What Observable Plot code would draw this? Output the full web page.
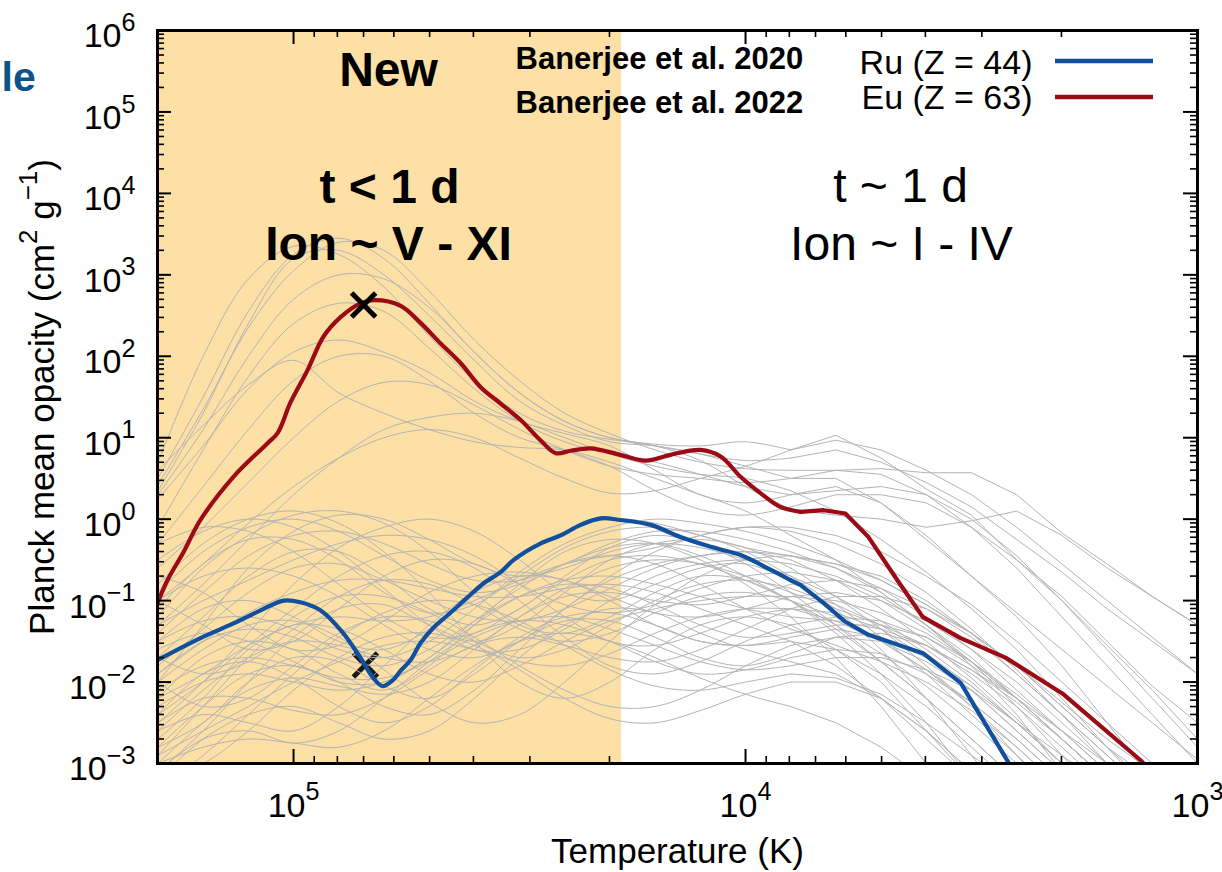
<!DOCTYPE html>
<html><head><meta charset="utf-8">
<script src="https://cdn.jsdelivr.net/npm/d3@7"></script>
<script src="https://cdn.jsdelivr.net/npm/@observablehq/plot@0.6"></script>
<style>
html,body{margin:0;padding:0;background:#fff;}
#chart{width:1222px;height:872px;overflow:hidden;}
</style></head><body><div id="chart"></div>
<script>
// ---------------- data ----------------
// temperatures and opacities are given as log10 values
const euLogT = [5.301,5.279,5.243,5.206,5.133,5.058,5.035,5.007,4.969,4.934,4.896,4.852,4.823,4.763,4.719,4.675,4.631,4.586,4.542,4.498,4.454,4.420,4.387,4.343,4.277,4.221,4.166,4.100,4.055,4.011,3.967,3.923,3.878,3.827,3.779,3.728,3.664,3.608,3.524,3.425,3.299,3.126,3.110];
const euLogK = [-1.03,-0.75,-0.40,-0.01,0.52,0.93,1.06,1.43,1.83,2.24,2.48,2.65,2.69,2.62,2.41,2.16,1.92,1.62,1.42,1.22,0.97,0.81,0.84,0.87,0.79,0.72,0.79,0.85,0.77,0.52,0.32,0.15,0.09,0.11,0.07,-0.22,-0.75,-1.20,-1.46,-1.70,-2.14,-2.96,-3.05];

const ruLogT = [5.301,5.206,5.133,5.073,5.022,4.985,4.940,4.896,4.852,4.825,4.803,4.781,4.763,4.741,4.719,4.690,4.659,4.615,4.580,4.542,4.513,4.454,4.409,4.365,4.321,4.277,4.210,4.144,4.077,4.011,3.945,3.900,3.878,3.827,3.779,3.728,3.606,3.524,3.418,3.410];
const ruLogK = [-1.73,-1.46,-1.28,-1.12,-1.00,-1.02,-1.12,-1.36,-1.70,-1.94,-2.05,-1.98,-1.86,-1.73,-1.52,-1.33,-1.18,-0.96,-0.79,-0.65,-0.50,-0.30,-0.20,-0.07,0.01,-0.01,-0.07,-0.22,-0.34,-0.44,-0.62,-0.75,-0.81,-1.03,-1.26,-1.42,-1.65,-2.01,-2.99,-3.05];

// "X" markers (Banerjee et al. values)
const crossLabels = ["Eu", "Ru"];
const crossLogT = [4.845, 4.841];
const crossLogK = [2.63, -1.79];

// all other elements (grey), on a common log10 T grid
const gridLogT = [5.3,5.2,5.1,5.0,4.9,4.8,4.7,4.6,4.5,4.4,4.3,4.2,4.1,4.0,3.9,3.8,3.7,3.6,3.5,3.4,3.3,3.2,3.1,3.0];
const grayUpper = [
  [0.5,1.5,2.55,3.25,3.45,3.2,2.65,2.05,1.55,1.2,1.0,0.92,0.9,0.95,0.85,1.03,0.75,0.37,0.05,-0.5,-0.95,-1.5,-2.05,-2.5],
  [0.42,1.35,2.35,3.05,3.4,3.3,2.8,2.2,1.7,1.3,1.05,0.85,0.7,0.62,0.6,0.6,0.62,0.57,0.57,0.3,-0.17,-0.55,-0.95,-1.3],
  [0.35,1.3,2.4,3.2,3.3,3.0,2.5,1.95,1.45,1.15,0.95,0.9,0.8,0.65,0.5,0.5,0.2,-0.25,-0.7,-1.15,-1.6,-2.05,-2.5,-2.95],
  [0.3,1.1,2.0,2.7,3.0,2.95,2.6,2.05,1.55,1.2,1.0,0.9,0.72,0.4,0.12,0.05,0.0,-0.1,-0.02,0.1,-0.2,-0.6,-0.95,-1.3],
  [0.6,1.15,1.65,1.95,1.55,1.3,1.1,0.95,0.88,0.85,0.7,0.5,0.3,0.1,-0.2,-0.5,-0.9,-1.3,-1.8,-2.4,-3.1],
  [0.25,0.9,1.6,2.05,2.2,2.05,1.8,1.45,1.2,1.05,0.9,0.6,0.3,0.2,0.3,0.4,0.2,-0.2,-0.7,-1.2,-1.8,-2.5,-3.2],
  [-0.3,0.4,1.1,1.7,2.0,2.0,1.7,1.3,1.0,0.85,0.65,0.35,0.12,0.05,0.15,0.3,0.3,0.2,-0.1,-0.5,-1.0,-1.6,-2.2,-2.8],
  [-0.6,-0.1,0.45,1.0,1.45,1.68,1.65,1.4,1.1,0.85,0.65,0.55,0.5,0.45,0.5,0.6,0.55,0.3,-0.1,-0.6,-1.2,-1.8,-2.4,-3.0],
  [-1.0,-0.55,-0.05,0.4,0.75,1.0,1.1,1.0,0.75,0.5,0.32,0.35,0.5,0.65,0.85,0.97,0.85,0.6,0.3,-0.1,-0.55,-1.0,-1.45,-1.9],
  [0.7,2.0,2.95,3.35,3.25,2.85,2.25,1.7,1.3,1.08,0.98,0.9,0.8,0.72,0.75,0.85,0.7,0.45,0.15,-0.25,-0.65,-1.1,-1.5,-1.9],
  [-1.3,-0.8,-0.25,0.3,0.75,1.1,1.25,1.3,1.2,1.0,0.8,0.65,0.55,0.5,0.35,0.1,-0.25,-0.65,-1.1,-1.6,-2.2,-2.8,-3.4],
  [-0.1,0.85,1.75,2.4,2.65,2.55,2.1,1.6,1.2,0.95,0.8,0.7,0.55,0.4,0.3,0.35,0.4,0.3,0.0,-0.45,-1.0,-1.55,-2.1,-2.7]
];
const grayLower = [
  [-2.5,-2.0,-1.4,-0.8,-0.35,-0.1,0.0,-0.15,-0.5,-0.9,-1.0,-0.8,-0.6,-0.55,-0.75,-1.1,-1.6,-2.2,-2.9,-3.6],
  [-1.2,-0.6,-0.2,0.05,0.1,-0.05,-0.4,-0.9,-1.3,-1.4,-1.2,-0.9,-0.7,-0.75,-1.0,-1.4,-1.9,-2.5,-3.2],
  [-3.1,-2.6,-2.0,-1.45,-1.1,-1.05,-1.3,-1.5,-1.3,-0.9,-0.5,-0.3,-0.25,-0.35,-0.6,-0.95,-1.35,-1.8,-2.3,-2.9,-3.5],
  [-2.2,-1.7,-1.5,-1.6,-1.9,-2.1,-1.8,-1.3,-0.8,-0.4,-0.25,-0.3,-0.5,-0.8,-1.2,-1.7,-2.3,-3.0,-3.7],
  [-0.8,-0.3,0.0,0.1,-0.05,-0.4,-0.9,-1.5,-2.0,-2.2,-2.0,-1.6,-1.3,-1.2,-1.3,-1.6,-2.0,-2.6,-3.2],
  [-2.8,-2.3,-1.9,-1.8,-2.0,-2.3,-2.4,-2.1,-1.6,-1.1,-0.75,-0.55,-0.45,-0.4,-0.45,-0.6,-0.85,-1.2,-1.6,-2.1,-2.6,-3.1],
  [-1.7,-1.2,-0.7,-0.4,-0.4,-0.7,-1.1,-1.3,-1.1,-0.7,-0.35,-0.2,-0.3,-0.55,-0.9,-1.3,-1.75,-2.2,-2.7,-3.2],
  [-2.0,-1.3,-0.6,-0.15,0.05,0.0,-0.25,-0.55,-0.7,-0.6,-0.4,-0.3,-0.35,-0.5,-0.7,-0.95,-1.25,-1.6,-2.0,-2.5,-3.0,-3.5],
  [-2.6,-2.4,-2.5,-2.6,-2.3,-1.8,-1.3,-0.9,-0.7,-0.75,-1.0,-1.3,-1.5,-1.55,-1.5,-1.6,-1.9,-2.3,-2.8,-3.3],
  [-1.5,-1.1,-1.0,-1.2,-1.5,-1.6,-1.35,-0.9,-0.45,-0.15,0.0,-0.05,-0.2,-0.35,-0.45,-0.55,-0.7,-1.0,-1.4,-1.9,-2.4,-2.9,-3.4],
  [-3.2,-2.7,-2.4,-2.3,-2.5,-2.7,-2.6,-2.2,-1.7,-1.3,-1.1,-1.15,-1.4,-1.6,-1.75,-1.9,-2.2,-2.6,-3.1],
  [-1.9,-1.5,-1.15,-0.9,-0.75,-0.75,-0.85,-0.95,-0.95,-0.85,-0.8,-0.9,-1.1,-1.3,-1.5,-1.8,-2.2,-2.7,-3.2],
  [-2.4,-2.0,-1.55,-1.1,-0.7,-0.45,-0.4,-0.6,-1.0,-1.45,-1.8,-1.9,-1.75,-1.5,-1.3,-1.2,-1.25,-1.45,-1.8,-2.2,-2.7,-3.2],
  [-0.5,-0.15,0.0,-0.1,-0.4,-0.85,-1.3,-1.6,-1.6,-1.35,-1.0,-0.7,-0.55,-0.5,-0.55,-0.7,-0.95,-1.3,-1.7,-2.2,-2.7,-3.2],
  [-2.9,-2.3,-1.7,-1.2,-0.95,-0.95,-1.15,-1.45,-1.8,-2.1,-2.3,-2.3,-2.1,-1.8,-1.55,-1.45,-1.5,-1.75,-2.1,-2.6,-3.1],
  [-1.0,-0.7,-0.6,-0.7,-0.95,-1.3,-1.6,-1.7,-1.5,-1.1,-0.7,-0.4,-0.2,-0.1,-0.15,-0.3,-0.55,-0.9,-1.35,-1.85,-2.4,-3.0,-3.5],
  [-2.3,-2.0,-1.9,-2.0,-2.1,-2.0,-1.7,-1.3,-0.95,-0.75,-0.7,-0.8,-0.95,-1.1,-1.2,-1.25,-1.35,-1.55,-1.9,-2.3,-2.8,-3.3],
  [-3.0,-2.8,-2.7,-2.75,-2.8,-2.6,-2.2,-1.8,-1.5,-1.4,-1.5,-1.7,-1.95,-2.15,-2.3,-2.5,-2.8,-3.2],
  [-1.4,-0.9,-0.45,-0.2,-0.15,-0.3,-0.55,-0.75,-0.75,-0.55,-0.3,-0.15,-0.15,-0.25,-0.4,-0.6,-0.9,-1.3,-1.75,-2.3,-2.9,-3.5],
  [-2.7,-2.2,-1.6,-1.3,-1.35,-1.6,-1.9,-2.0,-1.8,-1.5,-1.25,-1.1,-1.0,-0.95,-0.95,-1.0,-1.15,-1.4,-1.75,-2.2,-2.7,-3.2],
  [-0.3,-0.1,-0.15,-0.4,-0.8,-1.2,-1.45,-1.4,-1.1,-0.75,-0.5,-0.45,-0.55,-0.75,-1.0,-1.3,-1.65,-2.05,-2.5,-3.0,-3.5],
  [-2.0,-1.6,-1.3,-1.25,-1.45,-1.85,-2.25,-2.5,-2.4,-2.0,-1.5,-1.05,-0.7,-0.5,-0.45,-0.55,-0.75,-1.05,-1.4,-1.8,-2.3,-2.8,-3.2],
  [-3.3,-2.9,-2.4,-1.9,-1.45,-1.15,-1.0,-1.05,-1.25,-1.55,-1.85,-2.05,-2.1,-2.0,-1.9,-1.95,-2.15,-2.5,-2.9,-3.3],
  [-1.6,-1.4,-1.5,-1.75,-2.0,-2.0,-1.7,-1.25,-0.85,-0.55,-0.45,-0.55,-0.8,-1.1,-1.35,-1.55,-1.75,-2.0,-2.35,-2.8,-3.3],
  [-2.2,-1.9,-1.55,-1.3,-1.2,-1.25,-1.2,-1.0,-0.75,-0.55,-0.45,-0.35,-0.2,-0.1,-0.1,-0.2,-0.4,-0.7,-1.05,-1.5,-2.0,-2.5,-3.0,-3.5],
  [-3.0,-2.5,-2.1,-1.95,-2.05,-2.15,-2.0,-1.6,-1.2,-0.95,-0.9,-1.0,-1.05,-0.95,-0.8,-0.75,-0.85,-1.1,-1.45,-1.9,-2.4,-2.9,-3.4],
  [-1.1,-0.55,-0.25,-0.25,-0.5,-0.9,-1.15,-1.05,-0.7,-0.35,-0.15,-0.1,-0.2,-0.4,-0.7,-1.05,-1.45,-1.9,-2.4,-2.9,-3.4],
  [-2.5,-2.2,-2.2,-2.35,-2.4,-2.2,-1.85,-1.55,-1.45,-1.55,-1.7,-1.75,-1.6,-1.35,-1.1,-0.95,-0.95,-1.1,-1.4,-1.8,-2.3,-2.8,-3.3],
  [-1.3,-1.0,-0.75,-0.5,-0.3,-0.2,-0.25,-0.45,-0.8,-1.2,-1.5,-1.55,-1.4,-1.2,-1.1,-1.15,-1.35,-1.7,-2.1,-2.6,-3.1],
  [-3.2,-3.0,-2.6,-2.1,-1.7,-1.45,-1.4,-1.55,-1.85,-2.2,-2.45,-2.5,-2.35,-2.15,-2.0,-2.0,-2.2,-2.6,-3.1],
  [-1.8,-1.35,-0.9,-0.6,-0.55,-0.75,-1.0,-1.2,-1.25,-1.1,-0.85,-0.6,-0.45,-0.4,-0.5,-0.75,-1.1,-1.5,-1.95,-2.45,-3.0,-3.5],
  [-2.6,-2.1,-1.7,-1.5,-1.55,-1.7,-1.75,-1.55,-1.2,-0.85,-0.6,-0.5,-0.55,-0.7,-0.9,-1.1,-1.3,-1.55,-1.85,-2.2,-2.6,-3.0,-3.4],
  [-0.9,-0.4,-0.1,0.0,-0.15,-0.45,-0.75,-0.9,-0.8,-0.55,-0.35,-0.3,-0.45,-0.7,-1.0,-1.35,-1.75,-2.2,-2.7,-3.2],
  [-2.9,-2.6,-2.3,-2.0,-1.75,-1.55,-1.5,-1.6,-1.75,-1.8,-1.65,-1.4,-1.2,-1.1,-1.1,-1.25,-1.5,-1.85,-2.25,-2.7,-3.2],
  [-1.5,-1.25,-1.2,-1.35,-1.6,-1.7,-1.5,-1.1,-0.65,-0.3,-0.1,0.0,-0.05,-0.15,-0.3,-0.5,-0.75,-1.05,-1.4,-1.8,-2.25,-2.7,-3.1],
  [-2.1,-1.8,-1.7,-1.8,-1.95,-1.95,-1.75,-1.45,-1.25,-1.2,-1.35,-1.55,-1.75,-1.85,-1.8,-1.7,-1.7,-1.85,-2.1,-2.5,-2.9,-3.3],
  [-2.0,-2.3,-2.2,-1.8,-1.4,-1.2,-1.25,-1.5,-1.7,-1.6,-1.3,-1.0,-0.8,-0.75,-0.85,-1.05,-1.3,-1.65,-2.05,-2.5,-3.0,-3.5],
  [-1.0,-1.3,-1.6,-1.5,-1.1,-0.7,-0.5,-0.55,-0.8,-1.05,-1.15,-1.05,-0.85,-0.7,-0.65,-0.75,-1.0,-1.35,-1.75,-2.2,-2.7,-3.2],
  [-2.8,-2.5,-2.0,-1.7,-1.75,-2.05,-2.2,-1.9,-1.5,-1.25,-1.25,-1.45,-1.7,-1.8,-1.65,-1.45,-1.4,-1.55,-1.85,-2.25,-2.7,-3.2],
  [-1.7,-1.9,-1.75,-1.35,-0.95,-0.75,-0.8,-1.05,-1.35,-1.5,-1.4,-1.15,-0.95,-0.9,-1.0,-1.2,-1.5,-1.85,-2.3,-2.8,-3.3],
  [-2.4,-1.9,-1.75,-1.95,-2.3,-2.5,-2.3,-1.85,-1.45,-1.2,-1.15,-1.3,-1.5,-1.55,-1.45,-1.35,-1.45,-1.7,-2.05,-2.5,-3.0,-3.5],
  [-0.7,-0.9,-1.3,-1.6,-1.55,-1.25,-0.9,-0.7,-0.65,-0.75,-0.95,-1.15,-1.2,-1.1,-0.95,-0.9,-1.0,-1.25,-1.6,-2.0,-2.5,-3.0,-3.5],
  [-3.1,-2.7,-2.6,-2.75,-2.6,-2.2,-1.75,-1.4,-1.25,-1.3,-1.5,-1.75,-1.9,-1.85,-1.7,-1.6,-1.65,-1.9,-2.25,-2.7,-3.2],
  [-1.9,-1.5,-1.35,-1.45,-1.7,-1.8,-1.6,-1.25,-0.95,-0.8,-0.85,-1.05,-1.3,-1.45,-1.4,-1.3,-1.3,-1.45,-1.75,-2.15,-2.6,-3.1]
];

// shaded "New" temperature range (K)
const newRegionT = [2e5, 1.88e4];

// axes
const xDomain = [2e5, 1e3];
const yDomain = [1e-3, 1e6];
const xTickValues = [1e5, 1e4, 1e3];
const yTickValues = [1e-3, 1e-2, 1e-1, 1e0, 1e1, 1e2, 1e3, 1e4, 1e5, 1e6];

const legendLabels = ["Ru (Z = 44)", "Eu (Z = 63)"];
const refLabels = ["Banerjee et al. 2020", "Banerjee et al. 2022"];

// ---------------- styling ----------------
const FONT = '"Liberation Sans", Arial, Helvetica, sans-serif';
const EU_COLOR = "#9b0a15";
const RU_COLOR = "#10509e";
const GRAY = "#b4b4b4";
const SHADE = "#fde0a6";
const ML = 157, MR = 25, MT = 30, MB = 109, WIDTH = 1222, HEIGHT = 872;
const PW = WIDTH - ML - MR, PH = HEIGHT - MT - MB;

// ---------------- derived tables ----------------
function curveRows(logTs, logKs, id) {
  return logKs.map((lk, j) => ({id, lt: logTs[j], T: 10 ** logTs[j], k: 10 ** lk}));
}
function splitAt(rows) {
  const i = rows.findIndex(r => r.lt <= 3.9 + 1e-9);
  if (i < 0) return [rows, []];
  return [rows.slice(0, i + 1), rows.slice(i)];
}
const graySmooth = [], grayLinear = [];
[...grayUpper, ...grayLower].forEach((vals, i) => {
  const [s, l] = splitAt(curveRows(gridLogT, vals, i));
  graySmooth.push(...s); grayLinear.push(...l);
});
const [euSmooth, euLinear] = splitAt(curveRows(euLogT, euLogK, "Eu"));
const [ruSmooth, ruLinear] = splitAt(curveRows(ruLogT, ruLogK, "Ru"));
const crosses = crossLabels.map((el, i) => ({el, T: 10 ** crossLogT[i], k: 10 ** crossLogK[i]}));

const yMinor = [];
for (let e = -3; e < 6; e++) for (let m = 2; m < 10; m++) yMinor.push(m * 10 ** e);
const xMinor = [];
for (let e = 3; e < 6; e++) for (let m = 2; m < 10; m++) { const v = m * 10 ** e; if (v <= 2e5) xMinor.push(v); }

const pow10 = d => `10^{${String(Math.round(Math.log10(d))).replace("-", "\u2212")}}`;

const legendSwatches = () => {
  const g = d3.create("svg:g");
  [[RU_COLOR, 61], [EU_COLOR, 97]].forEach(([c, y]) => {
    g.append("line").attr("x1", 1055).attr("x2", 1153).attr("y1", y).attr("y2", y)
      .attr("stroke", c).attr("stroke-width", 4.5);
  });
  return g.node();
};

const txt = (s, o) => Plot.text([s], {frameAnchor: "top-left", lineAnchor: "bottom", fill: "black", ...o});

const svg = Plot.plot({
  width: WIDTH, height: HEIGHT,
  marginLeft: ML, marginRight: MR, marginTop: MT, marginBottom: MB,
  style: {fontFamily: FONT, fontSize: "34px", background: "white", color: "black", overflow: "visible"},
  x: {type: "log", domain: xDomain, axis: null, label: null},
  y: {type: "log", domain: yDomain, axis: null, label: null},
  marks: [
    Plot.rect([newRegionT], {x1: d => d[0], x2: d => d[1], fill: SHADE}),
    Plot.dot(crosses.filter(d => d.el === "Ru"), {x: "T", y: "k", symbol: "times", r: 11, stroke: "#1a1a1a", strokeWidth: 5}),
    Plot.line(graySmooth, {x: "T", y: "k", z: "id", curve: "catmull-rom", stroke: GRAY, strokeWidth: 1, clip: true}),
    Plot.line(grayLinear, {x: "T", y: "k", z: "id", curve: "linear", stroke: GRAY, strokeWidth: 1, clip: true}),
    Plot.line(euSmooth, {x: "T", y: "k", curve: "catmull-rom", stroke: EU_COLOR, strokeWidth: 4.2, clip: true}),
    Plot.line(euLinear, {x: "T", y: "k", curve: "linear", stroke: EU_COLOR, strokeWidth: 4.2, clip: true}),
    Plot.line(ruSmooth, {x: "T", y: "k", curve: "catmull-rom", stroke: RU_COLOR, strokeWidth: 4.2, clip: true}),
    Plot.line(ruLinear, {x: "T", y: "k", curve: "linear", stroke: RU_COLOR, strokeWidth: 4.2, clip: true}),
    Plot.dot(crosses.filter(d => d.el === "Eu"), {x: "T", y: "k", symbol: "times", r: 11, stroke: "black", strokeWidth: 5}),
    // inward ticks (gnuplot style, mirrored)
    Plot.ruleY(yTickValues, {insetRight: PW - 14, stroke: "black", strokeWidth: 2}),
    Plot.ruleY(yTickValues, {insetLeft: PW - 14, stroke: "black", strokeWidth: 2}),
    Plot.ruleY(yMinor, {insetRight: PW - 7, stroke: "black", strokeWidth: 1.6}),
    Plot.ruleY(yMinor, {insetLeft: PW - 7, stroke: "black", strokeWidth: 1.6}),
    Plot.ruleX(xTickValues, {insetTop: PH - 14, stroke: "black", strokeWidth: 2}),
    Plot.ruleX(xTickValues, {insetBottom: PH - 14, stroke: "black", strokeWidth: 2}),
    Plot.ruleX(xMinor, {insetTop: PH - 7, stroke: "black", strokeWidth: 1.6}),
    Plot.ruleX(xMinor, {insetBottom: PH - 7, stroke: "black", strokeWidth: 1.6}),
    Plot.frame({stroke: "black", strokeWidth: 3}),
    Plot.axisX(xTickValues, {anchor: "bottom", tickSize: 0, tickPadding: 29, tickFormat: pow10, fontSize: 34, label: null}),
    Plot.axisY(yTickValues, {anchor: "left", tickSize: 0, tickPadding: 22, tickFormat: pow10, fontSize: 34, dy: 6, label: null}),
    // axis titles
    Plot.text(["Temperature (K)"], {frameAnchor: "bottom", lineAnchor: "bottom", textAnchor: "middle", dy: 99, fontSize: 35, fill: "black"}),
    Plot.text(["Planck mean opacity (cm^{2} g^{\u22121})"], {frameAnchor: "left", rotate: -90, lineAnchor: "bottom", textAnchor: "middle", dx: -104, fontSize: 35, fill: "black"}),
    // annotations
    txt("New", {textAnchor: "middle", dx: 231, dy: 55, fontSize: 48, fontWeight: "bold"}),
    txt("t < 1 d", {textAnchor: "middle", dx: 232, dy: 172, fontSize: 48, fontWeight: "bold"}),
    txt("Ion ~ V - XI", {textAnchor: "middle", dx: 231, dy: 229, fontSize: 48, fontWeight: "bold"}),
    txt("t ~ 1 d", {textAnchor: "middle", dx: 743, dy: 171, fontSize: 48}),
    txt("Ion ~ I - IV", {textAnchor: "middle", dx: 744, dy: 229, fontSize: 48}),
    txt(refLabels[0], {textAnchor: "start", dx: 358, dy: 38, fontSize: 31, fontWeight: "bold"}),
    txt(refLabels[1], {textAnchor: "start", dx: 358, dy: 82, fontSize: 31, fontWeight: "bold"}),
    txt(legendLabels[0], {textAnchor: "end", dx: 875, dy: 43, fontSize: 34}),
    txt(legendLabels[1], {textAnchor: "end", dx: 875, dy: 78, fontSize: 34}),
    txt("le", {textAnchor: "start", dx: -156, dy: 60, fontSize: 41, fontWeight: "bold", fill: "#0b5488"}),
    legendSwatches
  ]
});

document.getElementById("chart").append(svg);

// turn "^{...}" into real superscript tspans
svg.querySelectorAll("text").forEach(t => {
  if (t.children.length) return;
  const s = t.textContent;
  if (!s.includes("^{")) return;
  const fs = parseFloat(getComputedStyle(t).fontSize) || 34;
  t.textContent = "";
  const re = /\^\{([^}]*)\}/g;
  let last = 0, m, raised = false;
  const add = (str, sup) => {
    if (!str) return;
    const sp = document.createElementNS("http://www.w3.org/2000/svg", "tspan");
    sp.textContent = str;
    if (sup) {
      sp.setAttribute("font-size", (0.74 * fs).toFixed(1));
      if (!raised) sp.setAttribute("dy", (-0.48 * fs).toFixed(1));
      raised = true;
    } else if (raised) {
      sp.setAttribute("dy", (0.48 * fs).toFixed(1));
      raised = false;
    }
    t.appendChild(sp);
  };
  while ((m = re.exec(s))) {
    add(s.slice(last, m.index), false);
    add(m[1], true);
    last = re.lastIndex;
  }
  add(s.slice(last), false);
});
</script>
</body></html>
